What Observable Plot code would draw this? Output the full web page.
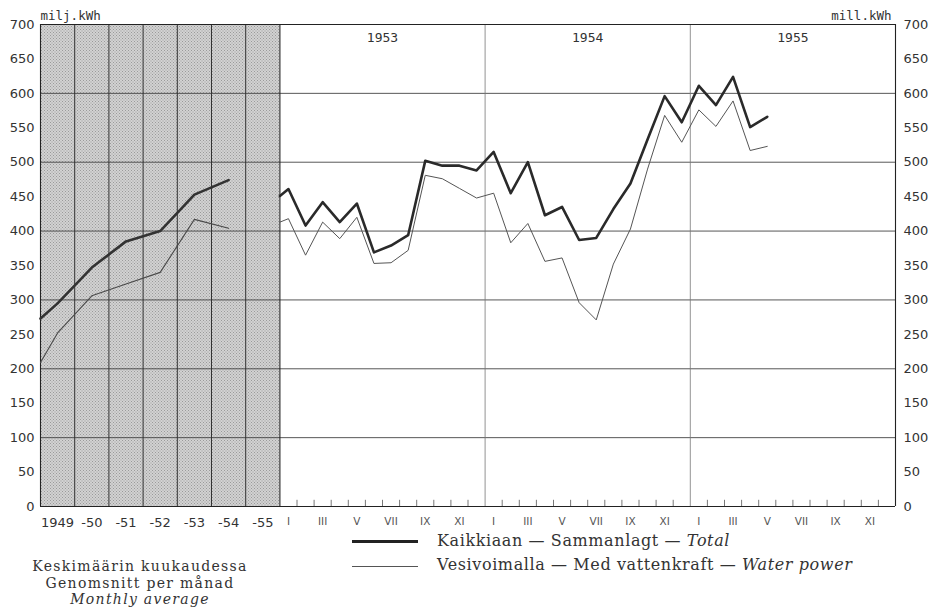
<!DOCTYPE html>
<html>
<head>
<meta charset="utf-8">
<script src="https://cdn.jsdelivr.net/npm/d3@7"></script>
<script src="https://cdn.jsdelivr.net/npm/@observablehq/plot@0.6"></script>
<style>
  html, body { margin: 0; padding: 0; background: #fff; }
  #wrap { position: relative; width: 935px; height: 610px; overflow: hidden; }
  #chart { position: absolute; left: 0; top: 0; }
  .cap { position: absolute; font-family: "DejaVu Serif", serif; color: #333; white-space: nowrap; }
  .swatch { position: absolute; background: #222; }
</style>
</head>
<body>
<div id="wrap">
  <div id="chart"></div>
  <div class="cap" style="left:0; width:280px; text-align:center; top:558px; line-height:16.5px; font-size:14px; letter-spacing:1.3px;">
    Keskimäärin kuukaudessa<br>Genomsnitt per månad<br><i>Monthly average</i>
  </div>
  <div class="swatch" style="left:352px; width:66px; top:540px; height:3px;"></div>
  <div class="swatch" style="left:352px; width:66px; top:566px; height:1px; background:#555;"></div>
  <div class="cap" style="left:437px; top:531px; font-size:16px; letter-spacing:0.6px;">Kaikkiaan — Sammanlagt — <i>Total</i></div>
  <div class="cap" style="left:437px; top:555px; font-size:16px; letter-spacing:0.6px;">Vesivoimalla — Med vattenkraft — <i>Water power</i></div>
</div>
<script>
// ---- Data ----
// Annual section (monthly averages): first entry is where the line starts at the left edge
const annualPos   = [1949.0, 1949.5, 1950.5, 1951.5, 1952.5, 1953.5, 1954.5];
const annualTotal = [273, 295, 347, 385, 400, 453, 474];
const annualWater = [209, 252, 306, 323, 340, 417, 404];
const annualLabels = ["1949", "-50", "-51", "-52", "-53", "-54", "-55"];

// Monthly section, 1953-I .. 1955-V
const monthlyYears = [1953, 1954, 1955];
const monthNames = ["I","II","III","IV","V","VI","VII","VIII","IX","X","XI","XII"];
const monthlyStartTotal = 451; // value where the line enters at the left edge of 1953
const monthlyStartWater = 413;
const monthlyTotal = [461,408,442,413,440,369,379,394,502,495,495,488,
                      515,455,500,423,435,387,390,432,469,533,596,558,
                      611,583,624,551,566];
const monthlyWater = [418,365,413,389,420,353,354,372,481,476,462,448,
                      455,383,411,356,361,296,271,352,403,490,568,529,
                      576,552,589,517,523];

const yTicks = d3.range(0, 701, 50);
const gridY = [100, 200, 300, 400, 500, 600];

// ---- position helpers (x in "month units": one annual column = 2 units) ----
const annualX = yr => (yr - 1949) * 2;
const monthX = i => 14 + i + 0.5;          // i = month index from 1953-I
const monthlyEdge = 14;
const xEnd = 14 + monthlyYears.length * 12;

const totalAnnual = annualPos.map((p, i) => ({x: annualX(p), v: annualTotal[i]}));
const waterAnnual = annualPos.map((p, i) => ({x: annualX(p), v: annualWater[i]}));
const totalMonthly = [{x: monthlyEdge, v: monthlyStartTotal}, ...monthlyTotal.map((v, i) => ({x: monthX(i), v}))];
const waterMonthly = [{x: monthlyEdge, v: monthlyStartWater}, ...monthlyWater.map((v, i) => ({x: monthX(i), v}))];

const annualLabelData = annualLabels.map((t, i) => ({x: annualX(1949 + i + 0.5), t}));
const monthLabelData = [];
const monthTickData = [];
monthlyYears.forEach((yr, k) => {
  monthNames.forEach((m, j) => {
    const i = k * 12 + j;
    if (j % 2 === 0) monthLabelData.push({x: monthX(i), t: m});
    if (j > 0) monthTickData.push(14 + i);
  });
});
const yearDividers = monthlyYears.slice(1).map((yr, k) => 14 + (k + 1) * 12);
const yearLabelData = monthlyYears.map((yr, k) => ({x: 14 + k * 12 + 6, t: String(yr)}));
const annualDividers = d3.range(1, 7).map(k => k * 2);

const chart = Plot.plot({
  width: 935,
  height: 535,
  marginTop: 24,
  marginBottom: 29,
  marginLeft: 40,
  marginRight: 40,
  x: {domain: [0, xEnd], axis: null},
  y: {domain: [0, 700], axis: null},
  style: {fontFamily: "DejaVu Sans", fontSize: "13px", color: "#333", background: "#fff"},
  marks: [
    Plot.rect([{x1: 0, x2: 14, y1: 0, y2: 700}], {x1: "x1", x2: "x2", y1: "y1", y2: "y2", fill: "url(#stipple)"}),
    Plot.ruleY(gridY, {stroke: "#444", strokeWidth: 0.9}),
    Plot.ruleX(annualDividers, {stroke: "#333", strokeWidth: 1}),
    Plot.ruleX(yearDividers, {stroke: "#777", strokeWidth: 0.8}),
    Plot.ruleX(monthTickData, {y1: 0, y2: 9, stroke: "#555", strokeWidth: 0.8}),
    Plot.ruleX([0, 14, xEnd], {stroke: "#222", strokeWidth: 1.1}),
    Plot.ruleY([0, 700], {stroke: "#222", strokeWidth: 1.2}),
    Plot.line(waterAnnual, {x: "x", y: "v", stroke: "#4a4a4a", strokeWidth: 1.1}),
    Plot.line(totalAnnual, {x: "x", y: "v", stroke: "#333", strokeWidth: 2.6}),
    Plot.line(waterMonthly, {x: "x", y: "v", stroke: "#555", strokeWidth: 1}),
    Plot.line(totalMonthly, {x: "x", y: "v", stroke: "#2a2a2a", strokeWidth: 2.6}),
    Plot.axisY(yTicks, {anchor: "left", tickSize: 0, tickPadding: 6, fontSize: 13, fill: "#333"}),
    Plot.axisY(yTicks, {anchor: "right", tickSize: 0, tickPadding: 8, fontSize: 13, fill: "#333"}),
    Plot.text(annualLabelData, {x: "x", y: 0, text: "t", dy: 16, fontSize: 13, fill: "#333"}),
    Plot.text(monthLabelData, {x: "x", y: 0, text: "t", dy: 15, fontSize: 10.5, fill: "#555"}),
    Plot.text(yearLabelData, {x: "x", y: 700, text: "t", dy: 13, fontFamily: "DejaVu Sans Mono", fontSize: 13, fill: "#333"}),
    Plot.text(["milj.kWh"], {x: 0, y: 700, text: d => d, dy: -9, textAnchor: "start", fontFamily: "DejaVu Sans Mono", fontSize: 12.5, fill: "#333"}),
    Plot.text(["mill.kWh"], {x: xEnd, y: 700, text: d => d, dy: -9, dx: -4, textAnchor: "end", fontFamily: "DejaVu Sans Mono", fontSize: 12.5, fill: "#333"})
  ]
});
// halftone-like stipple pattern for the shaded annual section
const ns = "http://www.w3.org/2000/svg";
const defs = document.createElementNS(ns, "defs");
const pat = document.createElementNS(ns, "pattern");
pat.setAttribute("id", "stipple");
pat.setAttribute("patternUnits", "userSpaceOnUse");
pat.setAttribute("width", "3");
pat.setAttribute("height", "3");
const bg = document.createElementNS(ns, "rect");
bg.setAttribute("width", "3"); bg.setAttribute("height", "3"); bg.setAttribute("fill", "#d2d2d2");
pat.appendChild(bg);
[[0.5, 0.5], [2, 2]].forEach(([cx, cy]) => {
  const dot = document.createElementNS(ns, "rect");
  dot.setAttribute("x", cx); dot.setAttribute("y", cy);
  dot.setAttribute("width", "1"); dot.setAttribute("height", "1");
  dot.setAttribute("fill", "#9a9a9a");
  pat.appendChild(dot);
});
defs.appendChild(pat);
chart.insertBefore(defs, chart.firstChild);
document.getElementById("chart").appendChild(chart);
</script>
</body>
</html>
